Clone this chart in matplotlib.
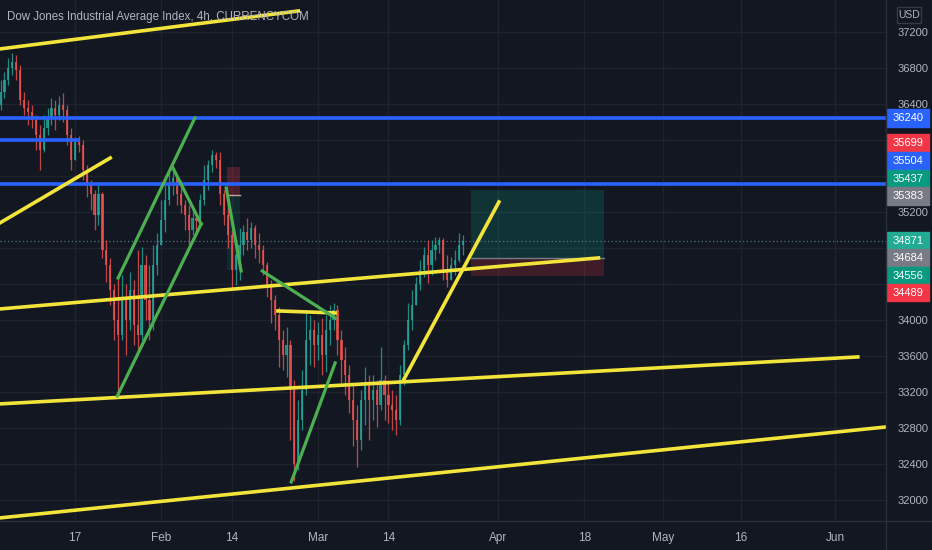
import numpy as np
import matplotlib.pyplot as plt
from matplotlib.patches import Rectangle
from matplotlib.lines import Line2D
from matplotlib.transforms import blended_transform_factory

# 12h candles, 3 Jan -> 25 Mar 2022
first_open = 36380
close = [36530, 36660, 36800, 36860, 36770, 36440, 36350, 36310, 36220, 36050,
         35880, 36130, 36240, 36350, 36270, 36380, 36330, 36050, 35770, 35970,
         35940, 35660, 35500, 35390, 35160, 35390, 34770, 34610, 34330, 34000,
         33830, 34220, 34000, 34330, 33940, 33830, 34610, 34220, 34000, 34610,
         34830, 35110, 35330, 35500, 35570, 35390, 35270, 35160, 35000, 35130,
         35090, 35330, 35550, 35720, 35830, 35770, 35390, 35160, 34940, 34550,
         34720, 34830, 34970, 34880, 35020, 34830, 34770, 34610, 34390, 34220,
         34050, 33770, 33610, 33720, 33220, 32390, 32880, 33220, 33770, 33880,
         33720, 33830, 33610, 33880, 34000, 34110, 33770, 33550, 33380, 33110,
         32880, 32660, 33110, 33270, 33110, 33220, 33050, 33330, 33160, 33050,
         33000, 32880, 33380, 33720, 34000, 34160, 34390, 34550, 34720, 34610,
         34770, 34830, 34880, 34550, 34440, 34610, 34660, 34830, 34871]
high = [36660, 36750, 36910, 36960, 36940, 36830, 36530, 36440, 36380, 36270,
        36160, 36270, 36350, 36460, 36440, 36480, 36520, 36380, 36130, 36030,
        36040, 36000, 35720, 35550, 35440, 35500, 35420, 34880, 34680, 34390,
        34460, 34500, 34390, 34530, 34440, 34770, 34810, 34720, 34610, 34830,
        34960, 35330, 35500, 35640, 35680, 35610, 35550, 35330, 35270, 35220,
        35180, 35390, 35720, 35770, 35880, 35860, 35860, 35440, 35330, 35000,
        34880, 35020, 35050, 35130, 35080, 35050, 34960, 34830, 34640, 34440,
        34270, 34140, 33880, 33920, 33770, 33330, 33110, 33440, 34090, 34050,
        34000, 33970, 34020, 34050, 34160, 34180, 34160, 33880, 33700, 33500,
        33270, 33050, 33220, 33470, 33380, 33380, 33330, 33700, 33380, 33330,
        33220, 33160, 33500, 33770, 34180, 34330, 34470, 34660, 34810, 34880,
        34880, 34920, 34920, 34910, 34720, 34700, 34770, 34960, 34940]
low = [36330, 36460, 36610, 36720, 36660, 36380, 36270, 36160, 36130, 35880,
       35660, 35860, 36050, 36160, 36110, 36220, 36200, 35940, 35660, 35800,
       35860, 35550, 35360, 35220, 35000, 35050, 34680, 34420, 34160, 33770,
       33160, 33770, 33610, 33880, 33720, 33640, 33770, 34000, 33770, 33880,
       34500, 34880, 34970, 35270, 35380, 35270, 35180, 35000, 34830, 34940,
       34970, 35050, 35270, 35440, 35640, 35680, 35270, 35050, 34790, 34350,
       34380, 34440, 34720, 34770, 34790, 34680, 34630, 34500, 34250, 33960,
       33880, 33470, 33440, 33360, 32660, 32210, 32330, 32770, 33160, 33500,
       33470, 33550, 33380, 33420, 33720, 33880, 33610, 33300, 33160, 32960,
       32590, 32360, 32550, 32830, 32660, 32880, 32810, 33000, 32880, 32850,
       32770, 32720, 32830, 33270, 33660, 33880, 34220, 34330, 34470, 34410,
       34500, 34660, 34740, 34440, 34360, 34440, 34500, 34640, 34720]

price_ticks = list(range(32000, 37201, 400))
hidden_ticks = [36000, 35600, 34800, 34400]  # covered by the price tags
tick_dates = ['2022-01-17', '2022-02-01', '2022-02-14', '2022-03-01', '2022-03-14',
              '2022-04-01', '2022-04-18', '2022-05-02', '2022-05-16', '2022-06-01']
tick_labels = ['17', 'Feb', '14', 'Mar', '14', 'Apr', '18', 'May', '16', 'Jun']

# price tags on the right scale
tag_values = [36240, 35699, 35504, 35437, 35383, 34871, 34684, 34556, 34489]
tag_colors = ['#2962ff', '#f23645', '#2962ff', '#089981', '#787b86',
              '#22ab94', '#787b86', '#089981', '#f23645']
tag_pos = [36240, 35962, 35762, 35562, 35373, 34873, 34685, 34485, 34296]

# drawings: (business-day index, price)
yellow_lines = [((-9.6, 37007), (28.5, 37429)),
                ((-9.6, 35073), (4.5, 35796)),
                ((-9.6, 34118), (66.8, 34685)),
                ((-9.6, 33063), (99.9, 33585)),
                ((-9.6, 31796), (103.5, 32807)),
                ((25.9, 34096), (33.2, 34074)),
                ((42.0, 33340), (54.1, 35307))]
green_lines = [((5.5, 34462), (15.3, 36240)),
               ((5.4, 33151), (16.1, 35062)),
               ((12.5, 35685), (16.1, 35062)),
               ((19.3, 35462), (21.2, 34540)),
               ((23.9, 34540), (33.2, 34018)),
               ((27.6, 32196), (33.2, 33518))]
blue_levels = [(36240, None), (35990, 0.6), (35504, None)]

bg = '#131722'
txt = '#b2b5be'
line_c = '#2a2e39'
up_c, down_c = '#26a69a', '#ef5350'

plt.rcParams['font.family'] = ['Liberation Sans', 'DejaVu Sans']

fig = plt.figure(figsize=(9.32, 5.5), dpi=100, facecolor=bg)
ax = fig.add_axes([0, 29 / 550, 886 / 932, 521 / 550])
ax.set_facecolor(bg)
ax.set_xlim(-9.57, 103.5)
ax.set_ylim(31762, 37551)

def bd(d):
    return int(np.busday_count('2022-01-17', d))

# grid
for p in price_ticks:
    ax.axhline(p, color='#1f232e', lw=1, zorder=0)
for d in tick_dates:
    ax.axvline(bd(d), color='#1f232e', lw=1, zorder=0)

# candles
n = len(close)
xs = bd('2022-01-03') + 0.5 + 0.5 * np.arange(n)
opens = [first_open] + close[:-1]
for x, o, h, l, c in zip(xs, opens, high, low, close):
    col = up_c if c >= o else down_c
    ax.vlines(x, min(l, o, c), max(h, o, c), color=col, lw=0.9, alpha=0.8, zorder=2)
    ax.bar(x, max(abs(c - o), 12), bottom=min(o, c), width=0.28, color=col,
           alpha=0.8, lw=0, zorder=2)

# position tools
ax.add_patch(Rectangle((50.5, 34684), 17, 35437 - 34684, color='#089981', alpha=0.22, lw=0, zorder=1))
ax.add_patch(Rectangle((50.5, 34489), 17, 34684 - 34489, color='#f23645', alpha=0.2, lw=0, zorder=1))
ax.plot([50.5, 67.5], [34684, 34684], color='#787b86', lw=1, zorder=1)
ax.add_patch(Rectangle((19.4, 35383), 1.7, 35699 - 35383, color='#f23645', alpha=0.25, lw=0, zorder=1))
ax.add_patch(Rectangle((19.4, 34556), 1.7, 35383 - 34556, color='#089981', alpha=0.15, lw=0, zorder=1))
ax.plot([19.4, 21.1], [35383, 35383], color='#c8a0a8', lw=1, zorder=1)

# last price line
ax.axhline(34871, color='#4a7a80', lw=0.9, ls=(0, (1, 2)), zorder=1)

# drawings
for p, end in blue_levels:
    x1 = 103.5 if end is None else end
    ax.plot([-9.6, x1], [p, p], color='#2962ff', lw=2.6, zorder=3, solid_capstyle='butt')
for (a, b) in yellow_lines:
    ax.plot([a[0], b[0]], [a[1], b[1]], color='#f2e43a', lw=2.6, zorder=4)
for (a, b) in green_lines:
    ax.plot([a[0], b[0]], [a[1], b[1]], color='#4caf50', lw=2.3, zorder=4)

# axes
for s in ax.spines.values():
    s.set_visible(False)
ax.yaxis.tick_right()
ax.set_yticks(price_ticks)
ax.set_yticklabels(['' if p in hidden_ticks else str(p) for p in price_ticks])
ax.tick_params(axis='y', length=0, pad=8, labelsize=8, labelcolor=txt)
ax.set_xticks([bd(d) for d in tick_dates])
ax.set_xticklabels(tick_labels)
ax.tick_params(axis='x', length=0, pad=8, labelsize=8.5, labelcolor=txt)

fig.add_artist(Line2D([886 / 932, 886 / 932], [0, 1], color=line_c, lw=1))
fig.add_artist(Line2D([0, 1], [29 / 550, 29 / 550], color=line_c, lw=1))

# price tags
tr = blended_transform_factory(fig.transFigure, ax.transData)
for v, c, p in zip(tag_values, tag_colors, tag_pos):
    ax.add_patch(Rectangle((887 / 932, p - 95), 42 / 932, 190, transform=tr,
                           color=c, clip_on=False, zorder=6))
    ax.text(908 / 932, p, str(v), transform=tr, color='white', fontsize=8,
            ha='center', va='center', zorder=7, clip_on=False)

fig.add_artist(Rectangle((897 / 932, 1 - 23 / 550), 24 / 932, 16 / 550,
                         transform=fig.transFigure, fill=False, ec='#363a45', lw=1))
fig.text(909 / 932, 1 - 15 / 550, 'USD', color=txt, fontsize=7.5, ha='center', va='center')

fig.text(7 / 932, 1 - 17 / 550, 'Dow Jones Industrial Average Index, 4h, CURRENCYCOM',
         color=txt, fontsize=8.3, ha='left', va='center', zorder=10)

fig.savefig('out.png', dpi=100, facecolor=bg)
